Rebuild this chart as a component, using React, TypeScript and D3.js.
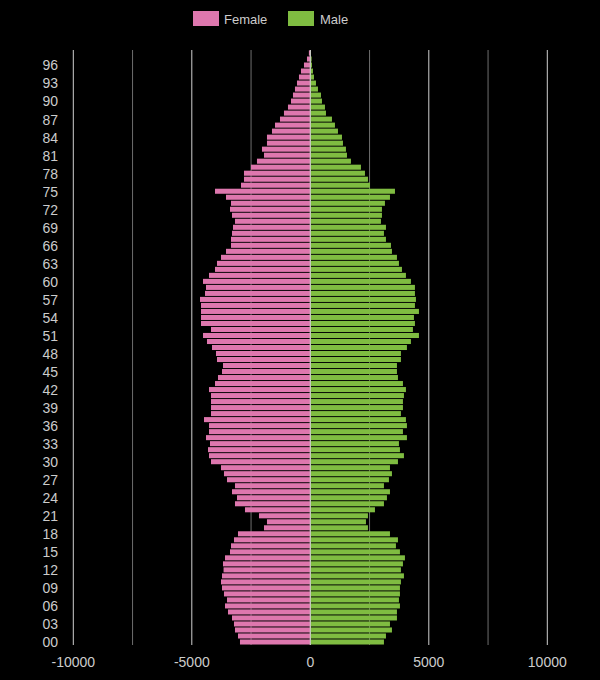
import React from "react";
import * as d3 from "d3";

const ages: number[] = d3.range(0, 99);
const female: number[] = [
  2967, 3051, 3178, 3220, 3304, 3473, 3599, 3515, 3642, 3726,
  3768, 3726, 3660, 3684, 3599, 3388, 3346, 3220, 3051, 1954,
  1828, 2165, 2756, 3178, 3093, 3304, 3178, 3515, 3642, 3768,
  4190, 4274, 4316, 4232, 4401, 4274, 4274, 4485, 4190, 4190,
  4190, 4190, 4274, 4021, 3895, 3726, 3684, 3937, 3979, 4148,
  4359, 4527, 4190, 4612, 4612, 4612, 4612, 4654, 4443, 4401,
  4527, 4274, 4021, 3937, 3768, 3557, 3346, 3346, 3304, 3262,
  3178, 3304, 3388, 3346, 3557, 4021, 2924, 2798, 2798, 2503,
  2250, 1954, 2039, 1828, 1828, 1617, 1490, 1279, 1111, 942,
  815, 731, 647, 562, 478, 394, 267, 140, 60,
];
const male: number[] = [
  3107, 3192, 3445, 3361, 3656, 3656, 3782, 3740, 3782, 3782,
  3824, 3951, 3824, 3909, 3993, 3782, 3613, 3698, 3361, 2432,
  2348, 2432, 2728, 3107, 3234, 3361, 3107, 3318, 3445, 3361,
  3698, 3951, 3782, 3740, 4077, 3909, 4077, 4035, 3824, 3909,
  3909, 3951, 4035, 3909, 3698, 3656, 3656, 3824, 3824, 4077,
  4246, 4584, 4330, 4415, 4373, 4584, 4415, 4457, 4415, 4415,
  4246, 4035, 3867, 3740, 3656, 3445, 3403, 3192, 3107, 3192,
  2981, 3023, 3023, 3149, 3361, 3572, 2517, 2433, 2306, 2137,
  1715, 1547, 1504, 1378, 1336, 1167, 1040, 914, 661, 619,
  492, 450, 323, 239, 155, 112, 70, 56, 20,
];
const xTicks: number[] = [-10000, -5000, 0, 5000, 10000];
const minorTicks: number[] = [-7500, -2500, 2500, 7500];
const seriesNames: string[] = ["Female", "Male"];
const colors: string[] = ["#de77ae", "#7fbc41"];

const W = 600;
const H = 680;
const left = 73.3;
const right = 547.3;
const top = 50;
const bottom = 645;
const font = "'Liberation Sans', Arial, sans-serif";

export default function App() {
  const x = d3.scaleLinear().domain([-10000, 10000]).range([left, right]);
  const y = d3
    .scaleBand<number>()
    .domain([...ages].reverse())
    .range([top, bottom])
    .paddingInner(0.16)
    .paddingOuter(0.08);
  const bw = y.bandwidth();
  const yLabels = ages.filter((a) => a % 3 === 0);

  return (
    <svg
      width={W}
      height={H}
      style={{ position: "absolute", left: 0, top: 0, background: "#000" }}
    >
      <rect x={0} y={0} width={W} height={H} fill="#000" />
      {/* legend */}
      <g fontFamily={font} fontSize={13} fill="#cccccc">
        <rect x={193} y={11} width={26} height={15} fill={colors[0]} />
        <text x={224} y={23.5}>{seriesNames[0]}</text>
        <rect x={288} y={11} width={26} height={15} fill={colors[1]} />
        <text x={320} y={23.5}>{seriesNames[1]}</text>
      </g>
      {/* grid */}
      {minorTicks.map((t) => (
        <line
          key={"m" + t}
          x1={x(t)}
          x2={x(t)}
          y1={top}
          y2={bottom}
          stroke="#6e6e6e"
          strokeWidth={1}
        />
      ))}
      {xTicks.map((t) => (
        <line
          key={"t" + t}
          x1={x(t)}
          x2={x(t)}
          y1={top}
          y2={bottom}
          stroke="#d0d0d0"
          strokeWidth={1}
        />
      ))}
      {/* bars */}
      {ages.map((a, i) => (
        <g key={a}>
          <rect
            x={x(-female[i])}
            y={y(a)}
            width={x(0) - x(-female[i])}
            height={bw}
            fill={colors[0]}
          />
          <rect
            x={x(0)}
            y={y(a)}
            width={x(male[i]) - x(0)}
            height={bw}
            fill={colors[1]}
          />
        </g>
      ))}
      <line x1={x(0)} x2={x(0)} y1={top} y2={bottom} stroke="#d0d0d0" strokeWidth={1} />
      {/* y labels */}
      <g fontFamily={font} fontSize={14} fill="#cccccc" textAnchor="end">
        {yLabels.map((a) => (
          <text key={a} x={58} y={(y(a) as number) + bw / 2 + 0.5} dy="0.35em">
            {String(a).padStart(2, "0")}
          </text>
        ))}
      </g>
      {/* x labels */}
      <g fontFamily={font} fontSize={14} fill="#cccccc" textAnchor="middle">
        {xTicks.map((t) => (
          <text key={t} x={x(t)} y={662} dy="0.35em">
            {t}
          </text>
        ))}
      </g>
    </svg>
  );
}
